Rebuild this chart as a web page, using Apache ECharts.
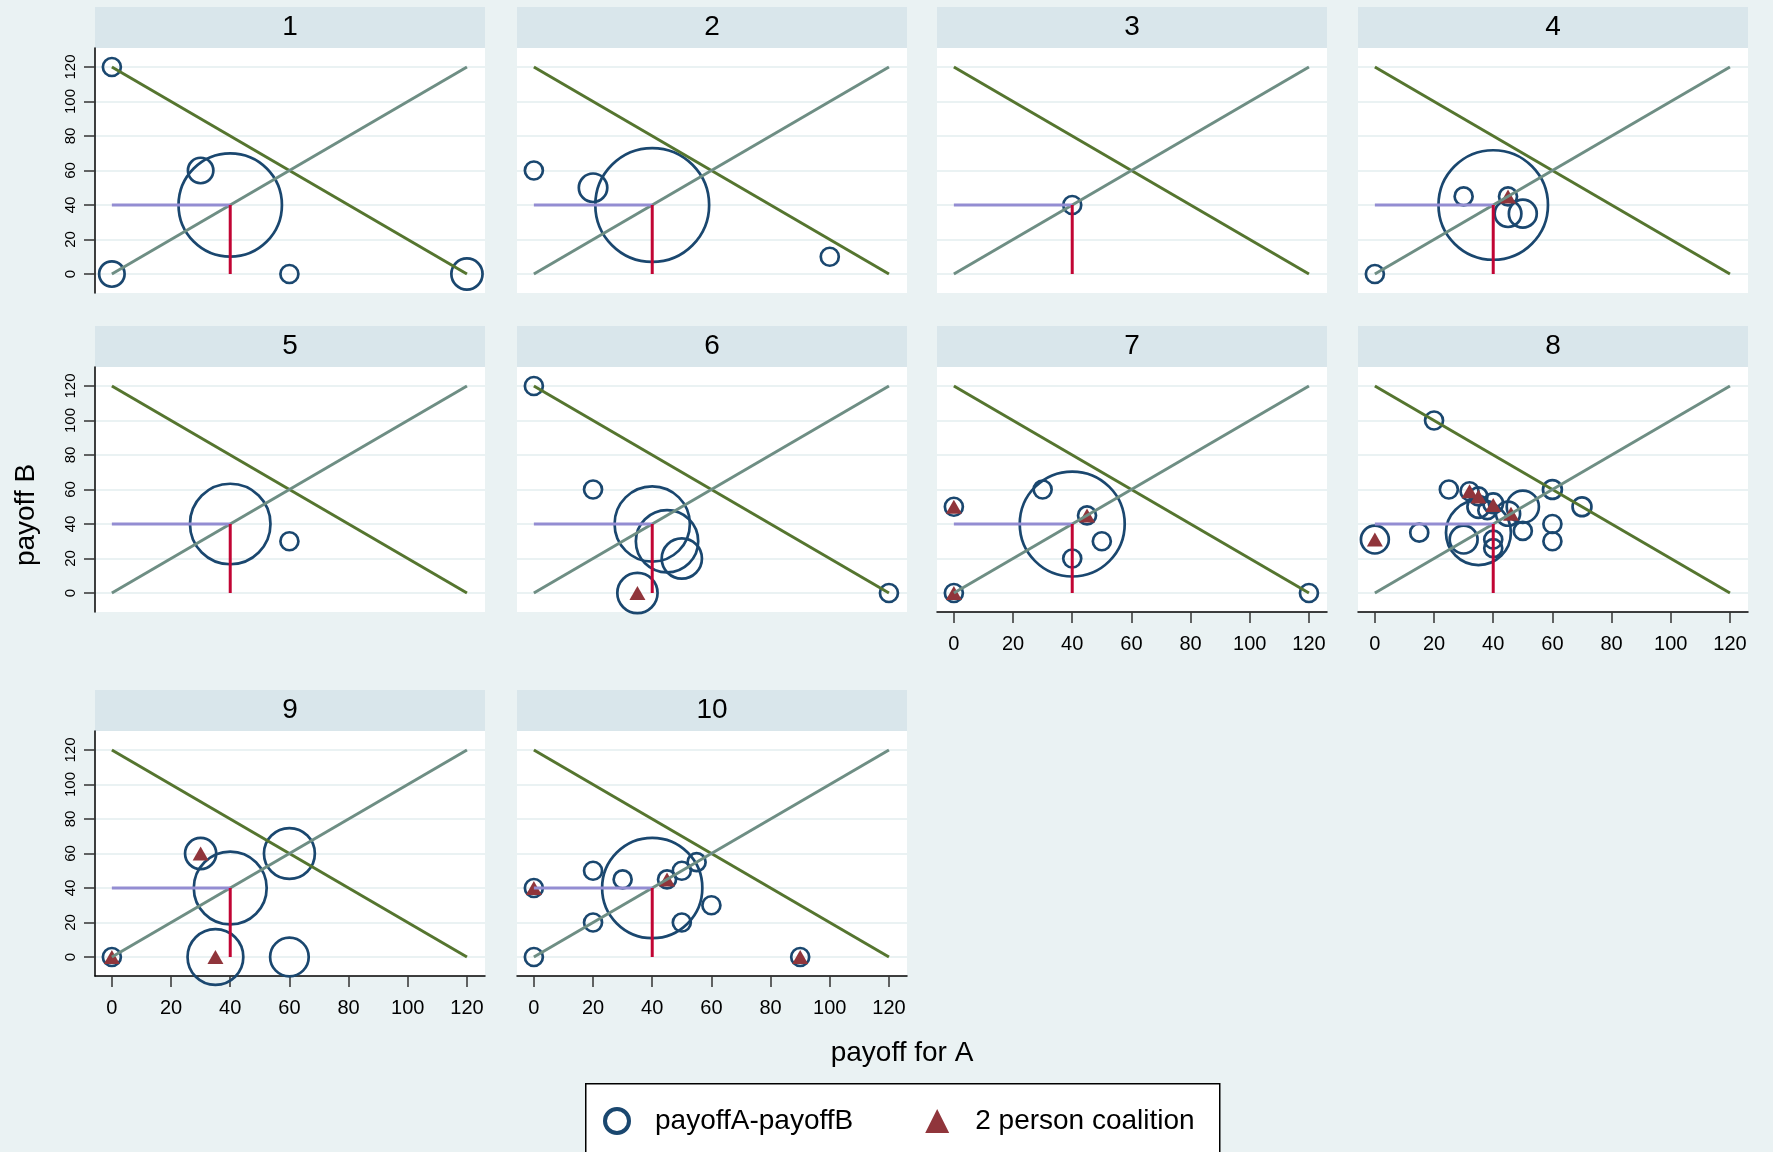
<!DOCTYPE html>
<html><head><meta charset="utf-8">
<script src="https://cdn.jsdelivr.net/npm/echarts@6/dist/echarts.min.js"></script>
<style>html,body{margin:0;padding:0;background:#EAF2F3}#c{width:1773px;height:1152px}</style>
</head><body><div id="c"></div>
<script>
// ---------------- data ----------------
const panelTitles = ['1','2','3','4','5','6','7','8','9','10'];
const xTicks = [0,20,40,60,80,100,120];
const yTicks = [0,20,40,60,80,100,120];
// [payoffA, payoffB, weight]
const circles1 = [[0,120,1],[0,0,2],[30,60,2],[40,40,33],[60,0,1],[120,0,3]];
const circles2 = [[0,60,1],[20,50,2.5],[40,40,40],[100,10,1]];
const circles3 = [[40,40,1]];
const circles4 = [[0,0,1],[30,45,1],[45,45,1],[40,40,37],[45,35,2.2],[50,35,2.4]];
const circles5 = [[40,40,20],[60,30,1]];
const circles6 = [[0,120,1],[20,60,1],[40,40,17.5],[45,30,12],[50,20,5],[35,0,5],[120,0,1]];
const circles7 = [[0,50,1],[0,0,1],[30,60,1],[45,45,1],[50,30,1],[40,20,1],[40,40,34],[120,0,1]];
const circles8 = [[20,100,1],[25,60,1],[32,59,1],[35,56,1],[35,50,1.5],[38,48,1],[40,52,1.2],[45,46,1.8],[50,50,3.2],[60,60,1.1],[70,50,1.1],[60,40,1],[60,30,1],[50,36,1],[40,31,1],[40,26,1],[15,35,1],[0,31,2.4],[35,35,13],[30,31,2.4]];
const circles9 = [[0,0,1],[30,60,3],[40,40,16.4],[60,60,8],[35,0,9.6],[60,0,4.6]];
const circles10 = [[0,40,1],[0,0,1],[20,50,1],[30,45,1],[45,45,1],[50,50,1],[55,55,1],[60,30,1],[50,20,1],[20,20,1],[40,40,31],[90,0,1]];
const coalition1 = [];
const coalition2 = [];
const coalition3 = [];
const coalition4 = [[45,45]];
const coalition5 = [];
const coalition6 = [[35,0]];
const coalition7 = [[0,50],[0,0],[45,45]];
const coalition8 = [[0,31],[32,59],[35,56],[40,51],[46,46]];
const coalition9 = [[0,0],[30,60],[35,0]];
const coalition10 = [[0,40],[45,45],[90,0]];
const descLine = [[0,120],[120,0]];
const ascLine = [[0,0],[120,120]];
const hLine = [[0,40],[40,40]];
const vLine = [[40,0],[40,40]];

const circles = [circles1,circles2,circles3,circles4,circles5,circles6,circles7,circles8,circles9,circles10];
const coalitions = [coalition1,coalition2,coalition3,coalition4,coalition5,coalition6,coalition7,coalition8,coalition9,coalition10];

// ---------------- layout ----------------
const colLeft = [95, 517, 937, 1358];
const rowTop = [48, 367, 731];
const PW = 390, PH = 245, HH = 41;
const FONT = "'Liberation Sans', Arial, sans-serif";
const NAVY = '#1A476F', MAROON = '#90353B';

const grids = [], xAxes = [], yAxes = [], series = [], graphics = [];
panelTitles.forEach((t, p) => {
  const r = Math.floor(p / 4), c = p % 4;
  const left = colLeft[c], top = rowTop[r];
  grids.push({left, top, width: PW, height: PH, show: true, backgroundColor: '#ffffff', borderWidth: 0, containLabel: false});
  const showX = p >= 6;
  const showY = c === 0;
  xAxes.push({
    type: 'value', gridIndex: p, min: -5.7, max: 126.1,
    axisLine: {show: showX, onZero: false, lineStyle: {color: '#000', width: 1.5}},
    axisTick: {show: showX, length: 11, customValues: xTicks, lineStyle: {color: '#333', width: 1.5}},
    axisLabel: {show: showX, customValues: xTicks, margin: 22, fontSize: 20, color: '#000', fontFamily: FONT},
    splitLine: {show: false}
  });
  yAxes.push({
    type: 'value', gridIndex: p, min: -11, max: 131,
    axisLine: {show: showY, onZero: false, lineStyle: {color: '#000', width: 1.5}},
    axisTick: {show: showY, length: 11, customValues: yTicks, lineStyle: {color: '#333', width: 1.5}},
    axisLabel: {show: showY, customValues: yTicks, margin: 17, rotate: 90, fontSize: 15, color: '#000', fontFamily: FONT},
    splitLine: {show: true, lineStyle: {color: '#EAF2F3', width: 2}}
  });
  series.push({
    type: 'scatter', name: 'payoffA-payoffB', xAxisIndex: p, yAxisIndex: p,
    data: circles[p], symbol: 'circle',
    symbolSize: d => 18 * Math.sqrt(d[2]),
    itemStyle: {color: 'rgba(0,0,0,0)', borderColor: NAVY, borderWidth: 2.7, opacity: 1},
    silent: true, z: 2
  });
  series.push({
    type: 'scatter', name: '2 person coalition', xAxisIndex: p, yAxisIndex: p,
    data: coalitions[p], symbol: 'triangle', symbolSize: [16, 14],
    itemStyle: {color: MAROON, opacity: 1}, silent: true, z: 3
  });
  const lineDefs = [[descLine, '#55752F', 3], [ascLine, '#6E8E84', 3], [hLine, '#938DD2', 3], [vLine, '#C10534', 3]];
  lineDefs.forEach(([d, col, w]) => {
    series.push({type: 'line', xAxisIndex: p, yAxisIndex: p, data: d, showSymbol: false, symbol: 'none',
      lineStyle: {color: col, width: w}, silent: true, z: 4, animation: false});
  });
  graphics.push({type: 'rect', left, top: top - HH, shape: {width: PW, height: HH}, style: {fill: '#D9E6EB'}, silent: true});
  graphics.push({type: 'text', x: left + PW / 2, y: top - HH / 2, style: {text: t, fontSize: 28, fontFamily: FONT, fill: '#000', align: 'center', verticalAlign: 'middle'}, silent: true});
});

graphics.push({type: 'text', x: 902, y: 1053, style: {text: 'payoff for A', fontSize: 28, fontFamily: FONT, fill: '#000', align: 'center', verticalAlign: 'middle'}});
graphics.push({type: 'text', x: 26, y: 515, rotation: Math.PI / 2, style: {text: 'payoff B', fontSize: 28, fontFamily: FONT, fill: '#000', align: 'center', verticalAlign: 'middle'}});
graphics.push({type: 'rect', left: 585, top: 1083, shape: {width: 634, height: 90}, style: {fill: '#ffffff', stroke: '#000', lineWidth: 1.5}, z: -1});

const chart = echarts.init(document.getElementById('c'), null, {renderer: 'canvas'});
chart.setOption({
  backgroundColor: '#EAF2F3',
  animation: false,
  grid: grids, xAxis: xAxes, yAxis: yAxes, series,
  graphic: {elements: graphics},
  legend: {
    left: 598, top: 1102, itemWidth: 24, itemHeight: 24, itemGap: 72,
    textStyle: {fontSize: 28, fontFamily: FONT, color: '#000', padding: [0, 0, 0, 21]},
    selectedMode: false,
    data: [
      {name: 'payoffA-payoffB', icon: 'circle', itemStyle: {color: 'rgba(0,0,0,0)', borderColor: NAVY, borderWidth: 4, opacity: 1}},
      {name: '2 person coalition', icon: 'triangle', itemStyle: {color: MAROON, borderWidth: 0, opacity: 1}}
    ]
  }
});
</script></body></html>
